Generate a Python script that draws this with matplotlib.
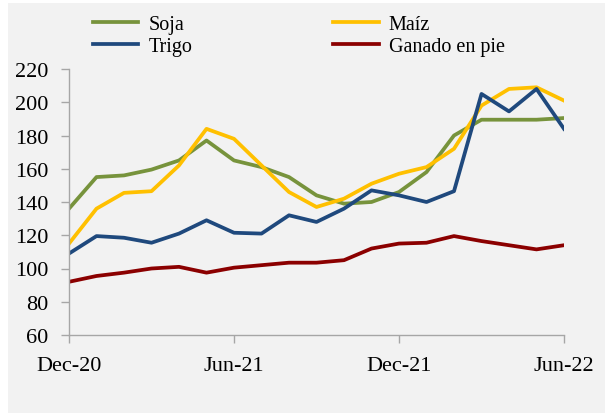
import numpy as np
import matplotlib
matplotlib.use("Agg")
import matplotlib.pyplot as plt
from matplotlib.patches import Rectangle

months = np.arange(19)
tick_pos = [0, 6, 12, 18]
tick_labels = ["Dec-20", "Jun-21", "Dec-21", "Jun-22"]

soja = [136, 155, 156, 159.5, 165, 177, 165, 161, 155, 144, 139, 140, 146, 158, 180, 189.5, 189.5, 189.5, 190.5]
maiz = [115, 136, 145.5, 146.5, 162, 184, 178, 162, 146, 137, 142, 151, 157, 161, 172, 198, 208, 209, 201]
trigo = [109, 119.5, 118.5, 115.5, 121, 129, 121.5, 121, 132, 128, 136, 147, 144, 140, 146.5, 205, 194.5, 208, 184]
ganado = [92, 95.5, 97.5, 100, 101, 97.5, 100.5, 102, 103.5, 103.5, 105, 112, 115, 115.5, 119.5, 116.5, 114, 111.5, 114]

plt.rcParams['font.family'] = ['Liberation Serif', 'DejaVu Serif']
plt.rcParams['font.size'] = 14.5

fig = plt.figure(figsize=(6.05, 4.14), dpi=100)
fig.patch.set_facecolor('white')
bg = Rectangle((8 / 605, 0), 1, 1 - 4 / 414, transform=fig.transFigure,
               facecolor='#f2f2f2', edgecolor='none', zorder=-10)
fig.add_artist(bg)

ax = fig.add_axes([69 / 605, 78 / 414, 495 / 605, 266 / 414])
ax.set_facecolor('none')

lw = 2.7
l1, = ax.plot(months, soja, color='#77933c', lw=lw, label='Soja')
l2, = ax.plot(months, maiz, color='#ffc000', lw=lw, label='Maíz')
l3, = ax.plot(months, trigo, color='#1f497d', lw=lw, label='Trigo')
l4, = ax.plot(months, ganado, color='#8b0000', lw=lw, label='Ganado en pie')

ax.set_xlim(0, 18)
ax.set_ylim(60, 220)
ax.set_yticks(range(60, 221, 20))
ax.set_xticks(tick_pos)
ax.set_xticklabels(tick_labels)

for s in ['top', 'right']:
    ax.spines[s].set_visible(False)
for s in ['left', 'bottom']:
    ax.spines[s].set_color('#a6a6a6')
    ax.spines[s].set_linewidth(1.0)
ax.tick_params(axis='both', colors='#a6a6a6', labelcolor='black', length=6,
               width=1.0, labelsize=16)
ax.tick_params(axis='x', pad=9)
ax.tick_params(axis='y', pad=9)

fig.legend([l1, l3, l2, l4], ['Soja', 'Trigo', 'Maíz', 'Ganado en pie'],
           ncol=2, loc='upper left', bbox_to_anchor=(93 / 605, 1 - 16 / 414),
           frameon=False, handlelength=2.25, handletextpad=0.5, columnspacing=7.0,
           labelspacing=0.12, borderaxespad=0, borderpad=0)

fig.savefig('out.png', dpi=100)
